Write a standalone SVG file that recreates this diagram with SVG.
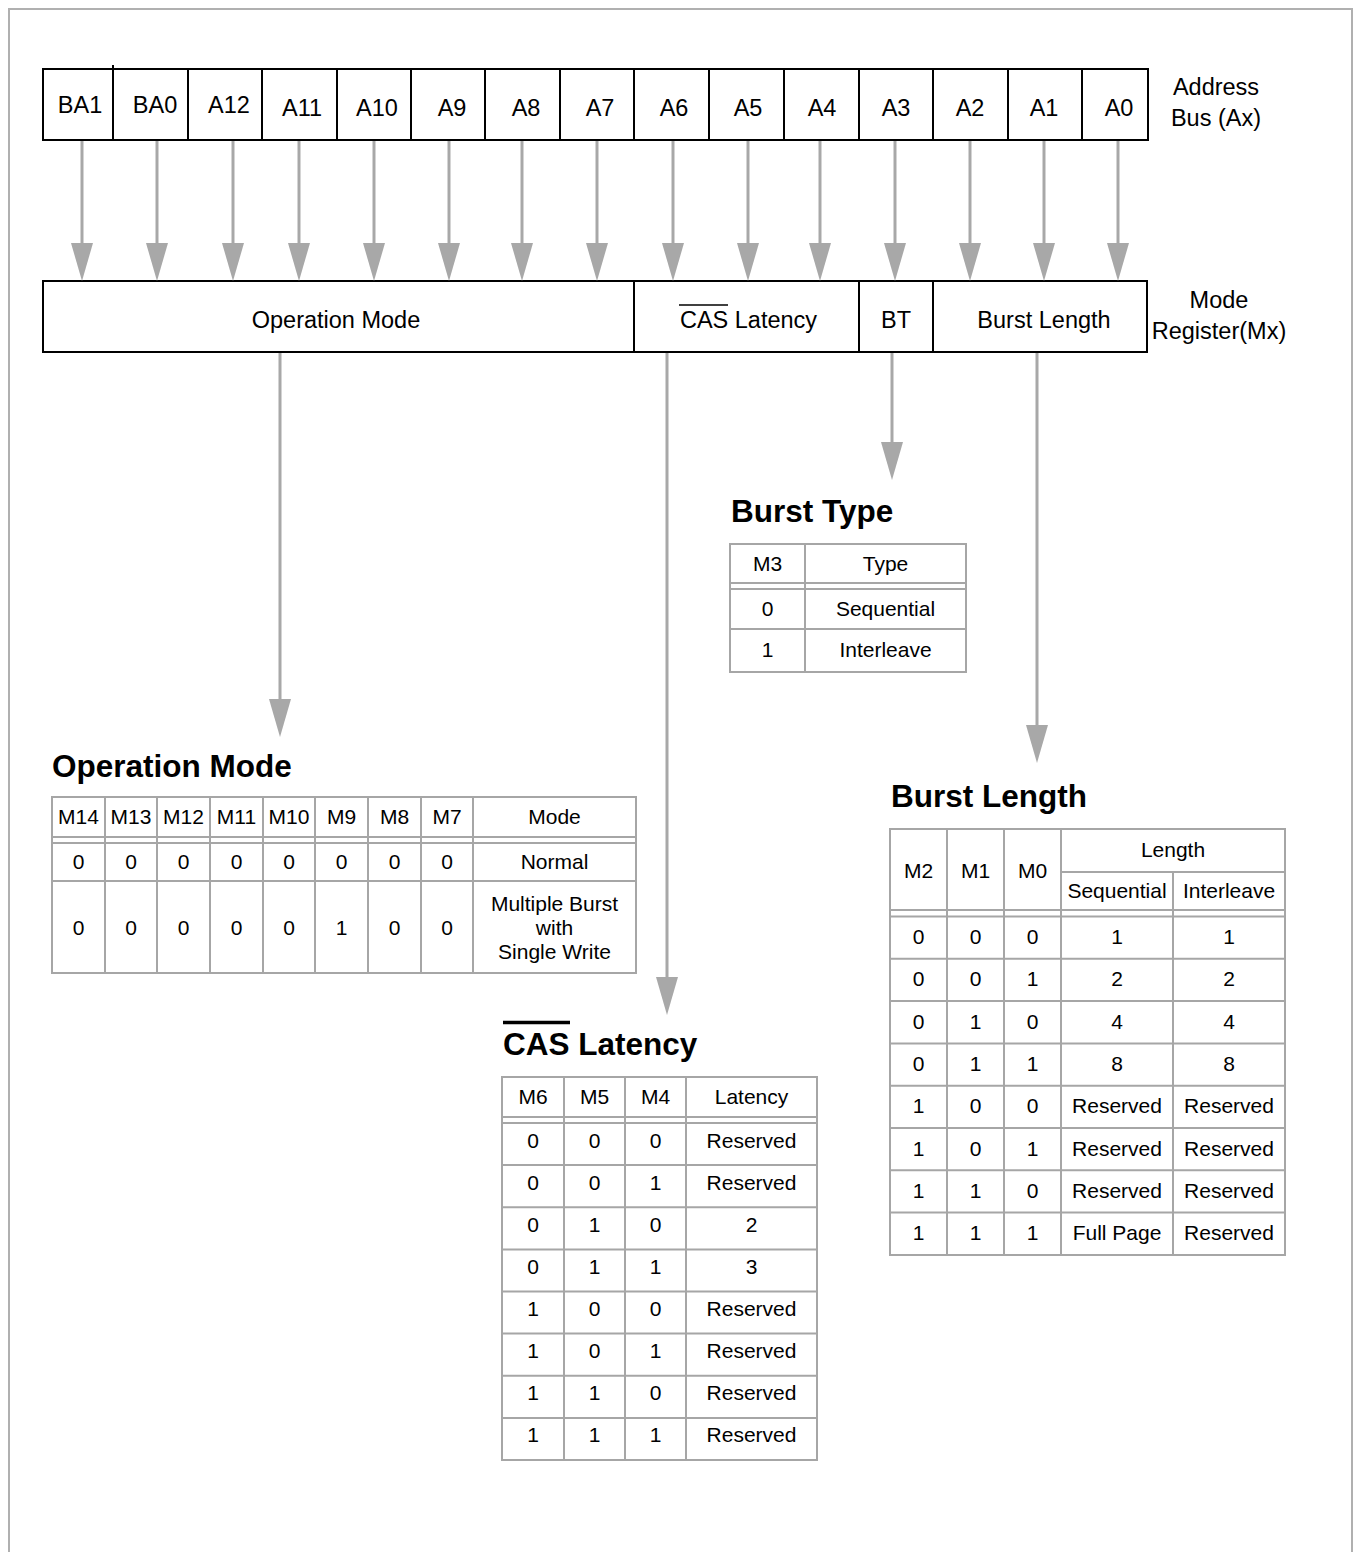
<svg xmlns="http://www.w3.org/2000/svg" width="1358" height="1552" viewBox="0 0 1358 1552">
<style>
text{font-family:"Liberation Sans",Arial,sans-serif;fill:#000}
.reg{font-size:23.5px}
.mid{text-anchor:middle}
.tb{font-size:21px;text-anchor:middle}
.hd{font-size:31.5px;font-weight:bold}
.box{fill:#fff;stroke:#000;stroke-width:2}
.bl{stroke:#000;stroke-width:2}
.tl{stroke:#a6a6a6;stroke-width:2;fill:none}
.con{stroke:#a8a8a8;stroke-width:3;fill:none;marker-end:url(#ah)}
.frame{fill:none;stroke:#b0b0b0;stroke-width:2}
</style>
<defs>
<marker id="ah" markerUnits="userSpaceOnUse" viewBox="0 -11 38 22" refX="28" refY="0" markerWidth="38" markerHeight="22" orient="auto">
<path d="M0,-11 L38,0 L0,11 Z" fill="#a8a8a8"/>
</marker>
</defs>
<rect width="1358" height="1552" fill="#fff"/>
<rect class="frame" x="9" y="9" width="1343" height="1570"/>

<g id="address-bus">
<rect class="box" x="43" y="69" width="1105" height="71"/>
<line class="bl" x1="113" y1="65" x2="113" y2="140"/>
<line class="bl" x1="188" y1="69" x2="188" y2="140"/>
<line class="bl" x1="262" y1="69" x2="262" y2="140"/>
<line class="bl" x1="337" y1="69" x2="337" y2="140"/>
<line class="bl" x1="411" y1="69" x2="411" y2="140"/>
<line class="bl" x1="485" y1="69" x2="485" y2="140"/>
<line class="bl" x1="560" y1="69" x2="560" y2="140"/>
<line class="bl" x1="634" y1="69" x2="634" y2="140"/>
<line class="bl" x1="709" y1="69" x2="709" y2="140"/>
<line class="bl" x1="784" y1="69" x2="784" y2="140"/>
<line class="bl" x1="859" y1="69" x2="859" y2="140"/>
<line class="bl" x1="933" y1="69" x2="933" y2="140"/>
<line class="bl" x1="1008" y1="69" x2="1008" y2="140"/>
<line class="bl" x1="1082" y1="69" x2="1082" y2="140"/>
<text class="reg mid" x="80" y="113">BA1</text>
<text class="reg mid" x="155" y="113">BA0</text>
<text class="reg mid" x="229" y="113">A12</text>
<text class="reg mid" x="302" y="116">A11</text>
<text class="reg mid" x="377" y="116">A10</text>
<text class="reg mid" x="452" y="116">A9</text>
<text class="reg mid" x="526" y="116">A8</text>
<text class="reg mid" x="600" y="116">A7</text>
<text class="reg mid" x="674" y="116">A6</text>
<text class="reg mid" x="748" y="116">A5</text>
<text class="reg mid" x="822" y="116">A4</text>
<text class="reg mid" x="896" y="116">A3</text>
<text class="reg mid" x="970" y="116">A2</text>
<text class="reg mid" x="1044" y="116">A1</text>
<text class="reg mid" x="1119" y="116">A0</text>
<text class="reg mid" x="1216" y="95">Address</text>
<text class="reg mid" x="1216" y="126">Bus (Ax)</text>
</g>

<g id="mode-register">
<rect class="box" x="43" y="281" width="1104" height="71"/>
<line class="bl" x1="634" y1="281" x2="634" y2="352"/>
<line class="bl" x1="859" y1="281" x2="859" y2="352"/>
<line class="bl" x1="933" y1="281" x2="933" y2="352"/>
<text class="reg mid" x="336" y="328">Operation Mode</text>
<text class="reg mid" x="748.5" y="328">CAS Latency</text>
<line x1="679" y1="305" x2="728" y2="305" stroke="#000" stroke-width="1.6"/>
<text class="reg mid" x="896" y="328">BT</text>
<text class="reg mid" x="1044" y="328">Burst Length</text>
<text class="reg mid" x="1219" y="308">Mode</text>
<text class="reg mid" x="1219" y="339">Register(Mx)</text>
</g>

<g id="connectors">
<line class="con" x1="82" y1="141" x2="82" y2="271"/>
<line class="con" x1="157" y1="141" x2="157" y2="271"/>
<line class="con" x1="233" y1="141" x2="233" y2="271"/>
<line class="con" x1="299" y1="141" x2="299" y2="271"/>
<line class="con" x1="374" y1="141" x2="374" y2="271"/>
<line class="con" x1="449" y1="141" x2="449" y2="271"/>
<line class="con" x1="522" y1="141" x2="522" y2="271"/>
<line class="con" x1="597" y1="141" x2="597" y2="271"/>
<line class="con" x1="673" y1="141" x2="673" y2="271"/>
<line class="con" x1="748" y1="141" x2="748" y2="271"/>
<line class="con" x1="820" y1="141" x2="820" y2="271"/>
<line class="con" x1="895" y1="141" x2="895" y2="271"/>
<line class="con" x1="970" y1="141" x2="970" y2="271"/>
<line class="con" x1="1044" y1="141" x2="1044" y2="271"/>
<line class="con" x1="1118" y1="141" x2="1118" y2="271"/>
<line class="con" x1="280" y1="353" x2="280" y2="727"/>
<line class="con" x1="667" y1="353" x2="667" y2="1005"/>
<line class="con" x1="892" y1="353" x2="892" y2="470"/>
<line class="con" x1="1037" y1="353" x2="1037" y2="753"/>
</g>

<g id="burst-type">
<text class="hd" x="731" y="522">Burst Type</text>
<rect class="tl" x="730" y="544" width="236" height="128"/>
<line class="tl" x1="805" y1="544" x2="805" y2="672"/>
<line class="tl" x1="730" y1="583" x2="966" y2="583"/>
<line class="tl" x1="730" y1="589" x2="966" y2="589"/>
<line class="tl" x1="730" y1="629" x2="966" y2="629"/>
<text class="tb" x="767.5" y="570.5">M3</text>
<text class="tb" x="885.5" y="570.5">Type</text>
<text class="tb" x="767.5" y="615.5">0</text>
<text class="tb" x="885.5" y="615.5">Sequential</text>
<text class="tb" x="767.5" y="657">1</text>
<text class="tb" x="885.5" y="657">Interleave</text>
</g>

<g id="operation-mode">
<text class="hd" x="52" y="777">Operation Mode</text>
<rect class="tl" x="52" y="797" width="584" height="176"/>
<line class="tl" x1="105" y1="797" x2="105" y2="973"/>
<line class="tl" x1="157" y1="797" x2="157" y2="973"/>
<line class="tl" x1="210" y1="797" x2="210" y2="973"/>
<line class="tl" x1="263" y1="797" x2="263" y2="973"/>
<line class="tl" x1="315" y1="797" x2="315" y2="973"/>
<line class="tl" x1="368" y1="797" x2="368" y2="973"/>
<line class="tl" x1="421" y1="797" x2="421" y2="973"/>
<line class="tl" x1="473" y1="797" x2="473" y2="973"/>
<line class="tl" x1="52" y1="837" x2="636" y2="837"/>
<line class="tl" x1="52" y1="843" x2="636" y2="843"/>
<line class="tl" x1="52" y1="881" x2="636" y2="881"/>
<text class="tb" x="78.5" y="824">M14</text>
<text class="tb" x="131" y="824">M13</text>
<text class="tb" x="183.5" y="824">M12</text>
<text class="tb" x="236.5" y="824">M11</text>
<text class="tb" x="289" y="824">M10</text>
<text class="tb" x="341.5" y="824">M9</text>
<text class="tb" x="394.5" y="824">M8</text>
<text class="tb" x="447" y="824">M7</text>
<text class="tb" x="554.5" y="824">Mode</text>
<text class="tb" x="78.5" y="868.5">0</text>
<text class="tb" x="131" y="868.5">0</text>
<text class="tb" x="183.5" y="868.5">0</text>
<text class="tb" x="236.5" y="868.5">0</text>
<text class="tb" x="289" y="868.5">0</text>
<text class="tb" x="341.5" y="868.5">0</text>
<text class="tb" x="394.5" y="868.5">0</text>
<text class="tb" x="447" y="868.5">0</text>
<text class="tb" x="554.5" y="868.5">Normal</text>
<text class="tb" x="78.5" y="935">0</text>
<text class="tb" x="131" y="935">0</text>
<text class="tb" x="183.5" y="935">0</text>
<text class="tb" x="236.5" y="935">0</text>
<text class="tb" x="289" y="935">0</text>
<text class="tb" x="341.5" y="935">1</text>
<text class="tb" x="394.5" y="935">0</text>
<text class="tb" x="447" y="935">0</text>
<text class="tb" x="554.5" y="911">Multiple Burst</text>
<text class="tb" x="554.5" y="935">with</text>
<text class="tb" x="554.5" y="959">Single Write</text>
</g>

<g id="burst-length">
<text class="hd" x="891" y="807">Burst Length</text>
<rect class="tl" x="890" y="829" width="395" height="426"/>
<line class="tl" x1="947" y1="829" x2="947" y2="1255"/>
<line class="tl" x1="1004" y1="829" x2="1004" y2="1255"/>
<line class="tl" x1="1061" y1="829" x2="1061" y2="1255"/>
<line class="tl" x1="1173" y1="872" x2="1173" y2="1255"/>
<line class="tl" x1="1061" y1="872" x2="1285" y2="872"/>
<line class="tl" x1="890" y1="910" x2="1285" y2="910"/>
<line class="tl" x1="890" y1="916.5" x2="1285" y2="916.5"/>
<line class="tl" x1="890" y1="958.8" x2="1285" y2="958.8"/>
<line class="tl" x1="890" y1="1001.1" x2="1285" y2="1001.1"/>
<line class="tl" x1="890" y1="1043.4" x2="1285" y2="1043.4"/>
<line class="tl" x1="890" y1="1085.7" x2="1285" y2="1085.7"/>
<line class="tl" x1="890" y1="1128" x2="1285" y2="1128"/>
<line class="tl" x1="890" y1="1170.3" x2="1285" y2="1170.3"/>
<line class="tl" x1="890" y1="1212.6" x2="1285" y2="1212.6"/>
<text class="tb" x="918.5" y="877.5">M2</text>
<text class="tb" x="975.5" y="877.5">M1</text>
<text class="tb" x="1032.5" y="877.5">M0</text>
<text class="tb" x="1173" y="857">Length</text>
<text class="tb" x="1117" y="898">Sequential</text>
<text class="tb" x="1229" y="898">Interleave</text>
<text class="tb" x="918.5" y="944">0</text><text class="tb" x="975.5" y="944">0</text><text class="tb" x="1032.5" y="944">0</text><text class="tb" x="1117" y="944">1</text><text class="tb" x="1229" y="944">1</text>
<text class="tb" x="918.5" y="986.3">0</text><text class="tb" x="975.5" y="986.3">0</text><text class="tb" x="1032.5" y="986.3">1</text><text class="tb" x="1117" y="986.3">2</text><text class="tb" x="1229" y="986.3">2</text>
<text class="tb" x="918.5" y="1028.6">0</text><text class="tb" x="975.5" y="1028.6">1</text><text class="tb" x="1032.5" y="1028.6">0</text><text class="tb" x="1117" y="1028.6">4</text><text class="tb" x="1229" y="1028.6">4</text>
<text class="tb" x="918.5" y="1070.9">0</text><text class="tb" x="975.5" y="1070.9">1</text><text class="tb" x="1032.5" y="1070.9">1</text><text class="tb" x="1117" y="1070.9">8</text><text class="tb" x="1229" y="1070.9">8</text>
<text class="tb" x="918.5" y="1113.2">1</text><text class="tb" x="975.5" y="1113.2">0</text><text class="tb" x="1032.5" y="1113.2">0</text><text class="tb" x="1117" y="1113.2">Reserved</text><text class="tb" x="1229" y="1113.2">Reserved</text>
<text class="tb" x="918.5" y="1155.5">1</text><text class="tb" x="975.5" y="1155.5">0</text><text class="tb" x="1032.5" y="1155.5">1</text><text class="tb" x="1117" y="1155.5">Reserved</text><text class="tb" x="1229" y="1155.5">Reserved</text>
<text class="tb" x="918.5" y="1197.8">1</text><text class="tb" x="975.5" y="1197.8">1</text><text class="tb" x="1032.5" y="1197.8">0</text><text class="tb" x="1117" y="1197.8">Reserved</text><text class="tb" x="1229" y="1197.8">Reserved</text>
<text class="tb" x="918.5" y="1240.1">1</text><text class="tb" x="975.5" y="1240.1">1</text><text class="tb" x="1032.5" y="1240.1">1</text><text class="tb" x="1117" y="1240.1">Full Page</text><text class="tb" x="1229" y="1240.1">Reserved</text>
</g>

<g id="cas-latency">
<text class="hd" x="503" y="1055">CAS Latency</text>
<line x1="503" y1="1022.5" x2="570" y2="1022.5" stroke="#000" stroke-width="3.5"/>
<rect class="tl" x="502" y="1077" width="315" height="383"/>
<line class="tl" x1="564" y1="1077" x2="564" y2="1460"/>
<line class="tl" x1="625" y1="1077" x2="625" y2="1460"/>
<line class="tl" x1="686" y1="1077" x2="686" y2="1460"/>
<line class="tl" x1="502" y1="1117" x2="817" y2="1117"/>
<line class="tl" x1="502" y1="1123" x2="817" y2="1123"/>
<line class="tl" x1="502" y1="1165.1" x2="817" y2="1165.1"/>
<line class="tl" x1="502" y1="1207.3" x2="817" y2="1207.3"/>
<line class="tl" x1="502" y1="1249.4" x2="817" y2="1249.4"/>
<line class="tl" x1="502" y1="1291.5" x2="817" y2="1291.5"/>
<line class="tl" x1="502" y1="1333.6" x2="817" y2="1333.6"/>
<line class="tl" x1="502" y1="1375.8" x2="817" y2="1375.8"/>
<line class="tl" x1="502" y1="1417.9" x2="817" y2="1417.9"/>
<text class="tb" x="533" y="1104">M6</text>
<text class="tb" x="594.5" y="1104">M5</text>
<text class="tb" x="655.5" y="1104">M4</text>
<text class="tb" x="751.5" y="1104">Latency</text>
<text class="tb" x="533" y="1147.5">0</text><text class="tb" x="594.5" y="1147.5">0</text><text class="tb" x="655.5" y="1147.5">0</text><text class="tb" x="751.5" y="1147.5">Reserved</text>
<text class="tb" x="533" y="1189.6">0</text><text class="tb" x="594.5" y="1189.6">0</text><text class="tb" x="655.5" y="1189.6">1</text><text class="tb" x="751.5" y="1189.6">Reserved</text>
<text class="tb" x="533" y="1231.8">0</text><text class="tb" x="594.5" y="1231.8">1</text><text class="tb" x="655.5" y="1231.8">0</text><text class="tb" x="751.5" y="1231.8">2</text>
<text class="tb" x="533" y="1273.9">0</text><text class="tb" x="594.5" y="1273.9">1</text><text class="tb" x="655.5" y="1273.9">1</text><text class="tb" x="751.5" y="1273.9">3</text>
<text class="tb" x="533" y="1316">1</text><text class="tb" x="594.5" y="1316">0</text><text class="tb" x="655.5" y="1316">0</text><text class="tb" x="751.5" y="1316">Reserved</text>
<text class="tb" x="533" y="1358.1">1</text><text class="tb" x="594.5" y="1358.1">0</text><text class="tb" x="655.5" y="1358.1">1</text><text class="tb" x="751.5" y="1358.1">Reserved</text>
<text class="tb" x="533" y="1400.3">1</text><text class="tb" x="594.5" y="1400.3">1</text><text class="tb" x="655.5" y="1400.3">0</text><text class="tb" x="751.5" y="1400.3">Reserved</text>
<text class="tb" x="533" y="1442.4">1</text><text class="tb" x="594.5" y="1442.4">1</text><text class="tb" x="655.5" y="1442.4">1</text><text class="tb" x="751.5" y="1442.4">Reserved</text>
</g>
</svg>
